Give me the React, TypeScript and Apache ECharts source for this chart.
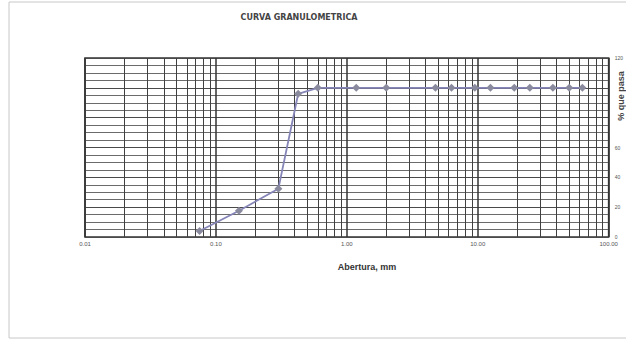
import React, { useEffect, useRef } from "react";
import * as echarts from "echarts";

const title = "CURVA GRANULOMETRICA";
const xAxisName = "Abertura, mm";
const yAxisName = "% que pasa";
const sieveSizes = [0.075, 0.15, 0.3, 0.425, 0.6, 1.18, 2.0, 4.75, 6.3, 9.5, 12.5, 19.0, 25.0, 37.5, 50.0, 63.0];
const percentPassing = [4, 17.6, 32.4, 96, 100, 100, 100, 100, 100, 100, 100, 100, 100, 100, 100, 100];
const minorGridX = [
  0.02, 0.03, 0.04, 0.05, 0.06, 0.07, 0.08, 0.09,
  0.2, 0.3, 0.4, 0.5, 0.6, 0.7, 0.8, 0.9,
  2, 3, 4, 5, 6, 7, 8, 9,
  20, 30, 40, 50, 60, 70, 80, 90,
];
const hiddenYLabels = [80, 100];

export default function App() {
  const ref = useRef<HTMLDivElement>(null);
  useEffect(() => {
    if (!ref.current) return;
    const chart = echarts.init(ref.current, null, { renderer: "svg" });
    const font = "'Liberation Sans', Arial, sans-serif";
    chart.setOption({
      animation: false,
      backgroundColor: "#ffffff",
      grid: { left: 85, right: 15, top: 58, bottom: 103, show: true, borderColor: "#333", borderWidth: 1.6, backgroundColor: "transparent" },
      xAxis: {
        type: "log",
        logBase: 10,
        min: 0.01,
        max: 100,
        axisLine: { show: false },
        axisTick: { show: false },
        splitLine: { show: true, lineStyle: { color: "#333", width: 1.5 } },
        axisLabel: {
          show: true,
          fontSize: 6,
          color: "#555",
          margin: 4,
          fontFamily: font,
          showMinLabel: true,
          showMaxLabel: true,
          formatter: (v: number) => v.toFixed(2),
        },
      },
      yAxis: {
        type: "value",
        position: "right",
        min: 0,
        max: 120,
        interval: 20,
        axisLine: { show: false },
        axisTick: { show: false },
        splitLine: { show: true, lineStyle: { color: "#4a4a4a", width: 1 } },
        minorTick: { show: false, splitNumber: 4 },
        minorSplitLine: { show: true, lineStyle: { color: "#5a5a5a", width: 0.9 } },
        axisLabel: {
          fontSize: 5,
          color: "#555",
          margin: 6,
          fontFamily: font,
          formatter: (v: number) => (hiddenYLabels.includes(v) ? "" : String(v)),
        },
      },
      series: [
        {
          type: "line",
          data: sieveSizes.map((s, i) => [s, percentPassing[i]]),
          symbol: "diamond",
          symbolSize: 8,
          lineStyle: { color: "#8585b8", width: 1.8 },
          itemStyle: { color: "#8a8a9e" },
          markLine: {
            silent: true,
            symbol: "none",
            label: { show: false },
            lineStyle: { color: "#404040", width: 1, type: "solid" },
            data: minorGridX.map((x) => ({ xAxis: x })),
            z: 1,
          },
          z: 5,
        },
      ],
      graphic: [
        { type: "rect", shape: { x: 9, y: 2, width: 640, height: 336 }, style: { fill: "none", stroke: "#c8c8c8", lineWidth: 1 }, silent: true },
        { type: "text", x: 299, y: 17, style: { text: title, font: "bold 8px 'DejaVu Sans', sans-serif", fill: "#444", align: "center", verticalAlign: "middle" } },
        { type: "text", x: 367, y: 267, style: { text: xAxisName, font: `bold 9px ${font}`, fill: "#333", align: "center", verticalAlign: "middle" } },
        { type: "text", x: 621, y: 96, rotation: Math.PI / 2, style: { text: yAxisName, font: `bold 9px ${font}`, fill: "#444", align: "center", verticalAlign: "middle" } },
      ],
    });
    return () => chart.dispose();
  }, []);
  return <div ref={ref} style={{ position: "absolute", left: 0, top: 0, width: 626, height: 340 }} />;
}
